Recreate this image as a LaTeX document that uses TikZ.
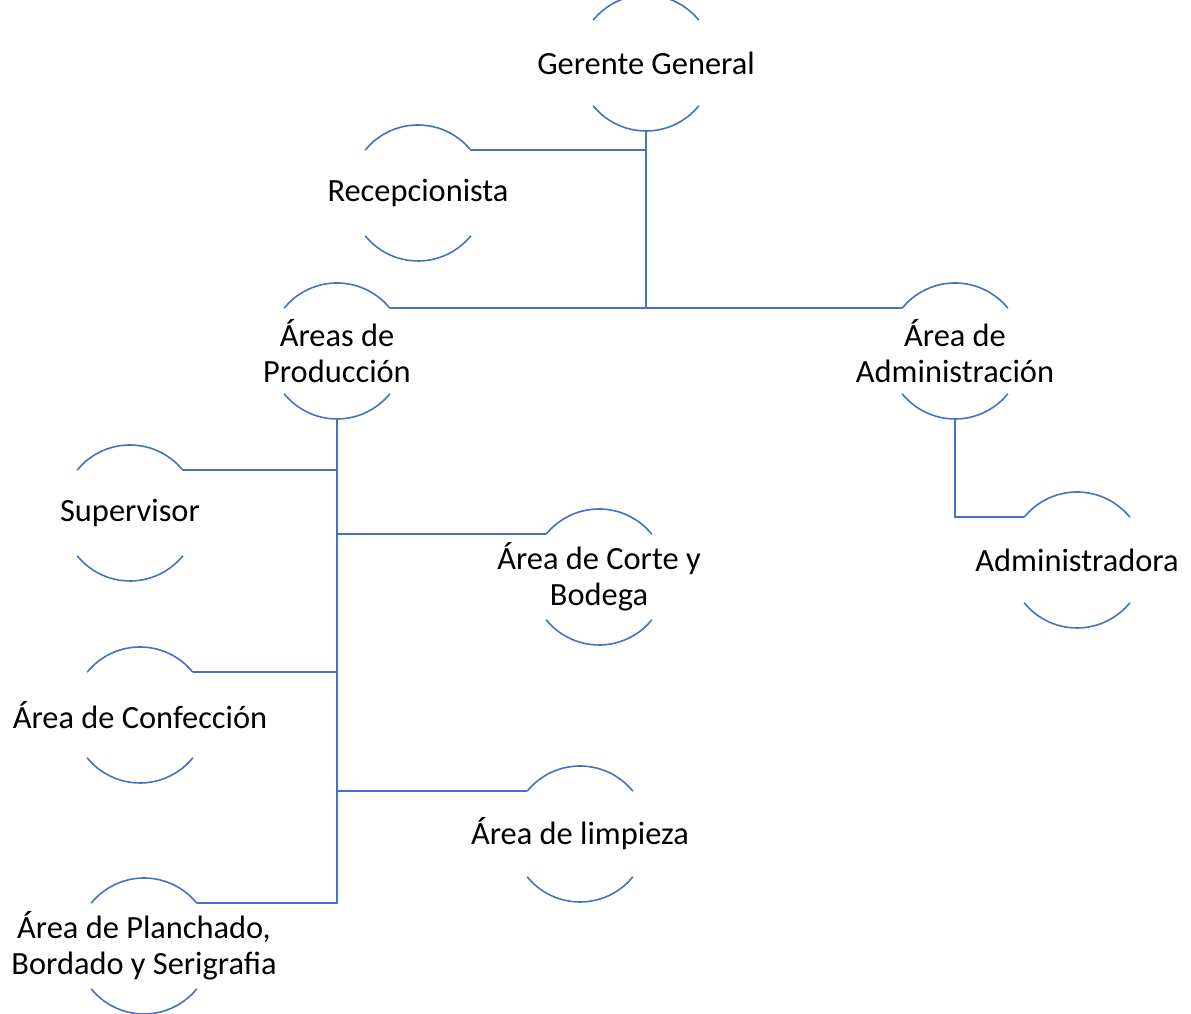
\documentclass[tikz,border=0pt]{standalone}
\usepackage{fontspec}
\setmainfont{Carlito}
\definecolor{orgblue}{RGB}{68,114,196}

\begin{document}
\begin{tikzpicture}[x=1pt, y=1pt, line width=1.6pt, orgblue,
    main/.style = {circle, minimum size=136pt, inner sep=0pt, outer sep=0pt},
    txt/.style = {black, align=center, font=\fontsize{32.4}{36}\selectfont}]
    \clip (0,0) rectangle (1191,1014);
    \node[main, label={[txt]center:Gerente General}] (1) at (646,951) {};
    \node[main, label={[txt]center:Recepcionista}] (2) at (418,821) {};
    \node[main, label={[txt]center:Áreas de\\Producción}] (3) at (337,663) {};
    \node[main, label={[txt]center:Área de\\Administración}] (4) at (955,663) {};
    \node[main, label={[txt]center:Administradora}] (5) at (1077,454) {};
    \node[main, label={[txt]center:Supervisor}] (6) at (130,501) {};
    \node[main, label={[txt]center:Área de Corte y\\Bodega}] (7) at (599,437) {};
    \node[main, label={[txt]center:Área de Confección}] (8) at (140,299) {};
    \node[main, label={[txt]center:Área de limpieza}] (9) at (580,180) {};
    \node[main, label={[txt]center:Área de Planchado,\\Bordado y Serigrafia}] (10) at (144,68) {};
    \foreach \n in {1,...,10} {
        \draw (\n.39) arc[start angle=39, end angle=141, radius=68pt];
        \draw (\n.219) arc[start angle=219, end angle=321, radius=68pt];
    }
    \draw[-] (2.39) -| (1.south);
    \draw[-] (1.south) -- (1.south |- 3.39);
    \draw[-] (3.39) -- (4.141);
    \draw[-] (4.south) |- (5.141);
    \draw[-] (3.south) |- (10.39);
    \draw[-] (6.39) -- (6.39 -| 3.south);
    \draw[-] (7.141) -- (7.141 -| 3.south);
    \draw[-] (8.39) -- (8.39 -| 3.south);
    \draw[-] (9.141) -- (9.141 -| 3.south);
\end{tikzpicture}
\end{document}
